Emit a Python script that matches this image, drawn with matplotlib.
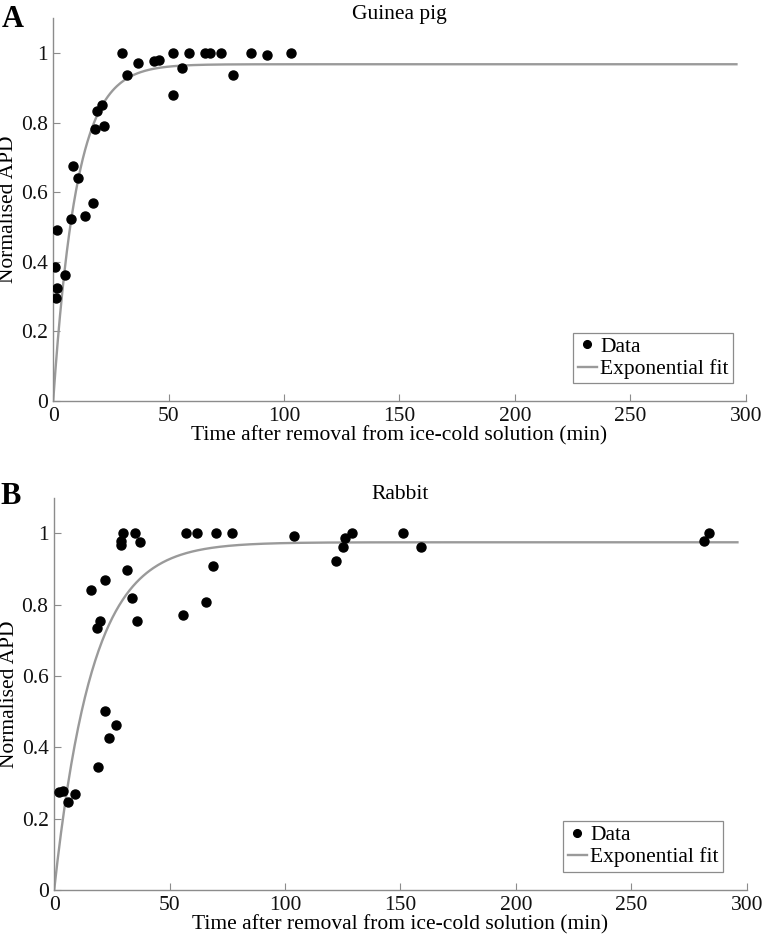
import matplotlib
matplotlib.use("Agg")
import matplotlib.pyplot as plt
import numpy as np

# guinea pig data (time in min, normalised APD)
gp_time = [0.8, 1.5, 1.3, 1.7, 5.0, 7.7, 8.7, 10.7, 13.9, 17.1, 17.9, 18.8, 21.1, 21.9,
           29.8, 31.8, 36.7, 43.7, 46.0, 51.8, 51.8, 55.8, 58.8, 65.6, 67.9, 72.7, 77.9,
           85.8, 92.8, 102.9]
gp_apd = [0.384, 0.325, 0.295, 0.493, 0.361, 0.522, 0.676, 0.642, 0.532, 0.568, 0.783,
          0.834, 0.851, 0.790, 1.0, 0.936, 0.971, 0.977, 0.981, 1.0, 0.881, 0.958, 1.0,
          1.0, 1.0, 1.0, 0.936, 1.0, 0.995, 1.0]
gp_fit_plateau = 0.968
gp_fit_tau = 10.1

# rabbit data
rb_time = [2.2, 3.7, 6.0, 9.0, 15.8, 18.7, 19.8, 18.9, 21.9, 21.9, 23.9, 26.9, 28.8, 28.8,
           29.8, 31.7, 33.8, 34.8, 35.7, 37.0, 55.7, 57.0, 61.9, 65.9, 68.9, 70.0, 77.0,
           104.0, 121.9, 125.0, 126.0, 129.0, 151.0, 158.9, 281.7, 283.8]
rb_apd = [0.275, 0.278, 0.246, 0.268, 0.842, 0.734, 0.753, 0.345, 0.869, 0.501, 0.426,
          0.463, 0.966, 0.978, 1.0, 0.898, 0.820, 1.0, 0.755, 0.976, 0.770, 1.0, 1.0,
          0.807, 0.908, 1.0, 1.0, 0.994, 0.923, 0.962, 0.988, 1.0, 1.0, 0.962, 0.978, 1.0]
rb_fit_plateau = 0.975
rb_fit_tau = 16.5

fit_tmax = 296
x_ticks = [0, 50, 100, 150, 200, 250, 300]
y_ticks = [0, 0.2, 0.4, 0.6, 0.8, 1]
y_ticklabels = ["0", "0.2", "0.4", "0.6", "0.8", "1"]

plt.rcParams.update({
    "font.family": ["Liberation Serif", "DejaVu Serif"],
    "font.size": 15.5,
})

_GRAY = "#8c8c8c"
_FIT = "#9a9a9a"


def _panel(ax, t, apd, plateau, tau, title, letter, letter_xy, legend_anchor):
    ax.plot(t, apd, "o", color="black", markersize=6.5, label="Data", zorder=3)
    tt = np.linspace(0, fit_tmax, 600)
    ax.plot(tt, plateau * (1 - np.exp(-tt / tau)), color=_FIT, linewidth=1.7,
            label="Exponential fit", zorder=2)
    ax.set_xlim(0, 300)
    ax.set_ylim(0, 1.1)
    ax.set_xticks(x_ticks)
    ax.set_yticks(y_ticks)
    ax.set_yticklabels(y_ticklabels)
    for s in ("top", "right"):
        ax.spines[s].set_visible(False)
    for s in ("left", "bottom"):
        ax.spines[s].set_color(_GRAY)
        ax.spines[s].set_linewidth(1.0)
    ax.tick_params(direction="in", length=5, color=_GRAY, pad=4, labelcolor="#111111")
    ax.set_xlabel("Time after removal from ice-cold solution (min)", labelpad=0)
    ax.set_ylabel("Normalised APD")
    ax.yaxis.set_label_coords(-0.051, 0.5)
    # title sits right on the top of the axis
    ax.text(0.5, 0.997, title, transform=ax.transAxes, ha="center", va="baseline",
            fontsize=15.5)
    ax.text(letter_xy[0], letter_xy[1], letter, transform=ax.transAxes, fontsize=22,
            fontweight="bold", va="top", ha="left")
    leg = ax.legend(loc="lower right", bbox_to_anchor=legend_anchor, fancybox=False,
                    framealpha=1, handlelength=0.9, handletextpad=0.15,
                    borderpad=0.2, labelspacing=0.1, borderaxespad=0, markerscale=0.85)
    leg.get_frame().set_edgecolor(_GRAY)
    leg.get_frame().set_linewidth(0.9)


fig = plt.figure(figsize=(7.63, 9.35), dpi=100)
ax_a = fig.add_axes([0.0697, 0.5711, 0.9076, 0.4093])
ax_b = fig.add_axes([0.0710, 0.0481, 0.9076, 0.4196])

_panel(ax_a, gp_time, gp_apd, gp_fit_plateau, gp_fit_tau, "Guinea pig", "A",
       (-0.074, 1.036), (0.982, 0.046))
_panel(ax_b, rb_time, rb_apd, rb_fit_plateau, rb_fit_tau, "Rabbit", "B",
       (-0.077, 1.041), (0.966, 0.047))

fig.savefig("out.png", dpi=100)
